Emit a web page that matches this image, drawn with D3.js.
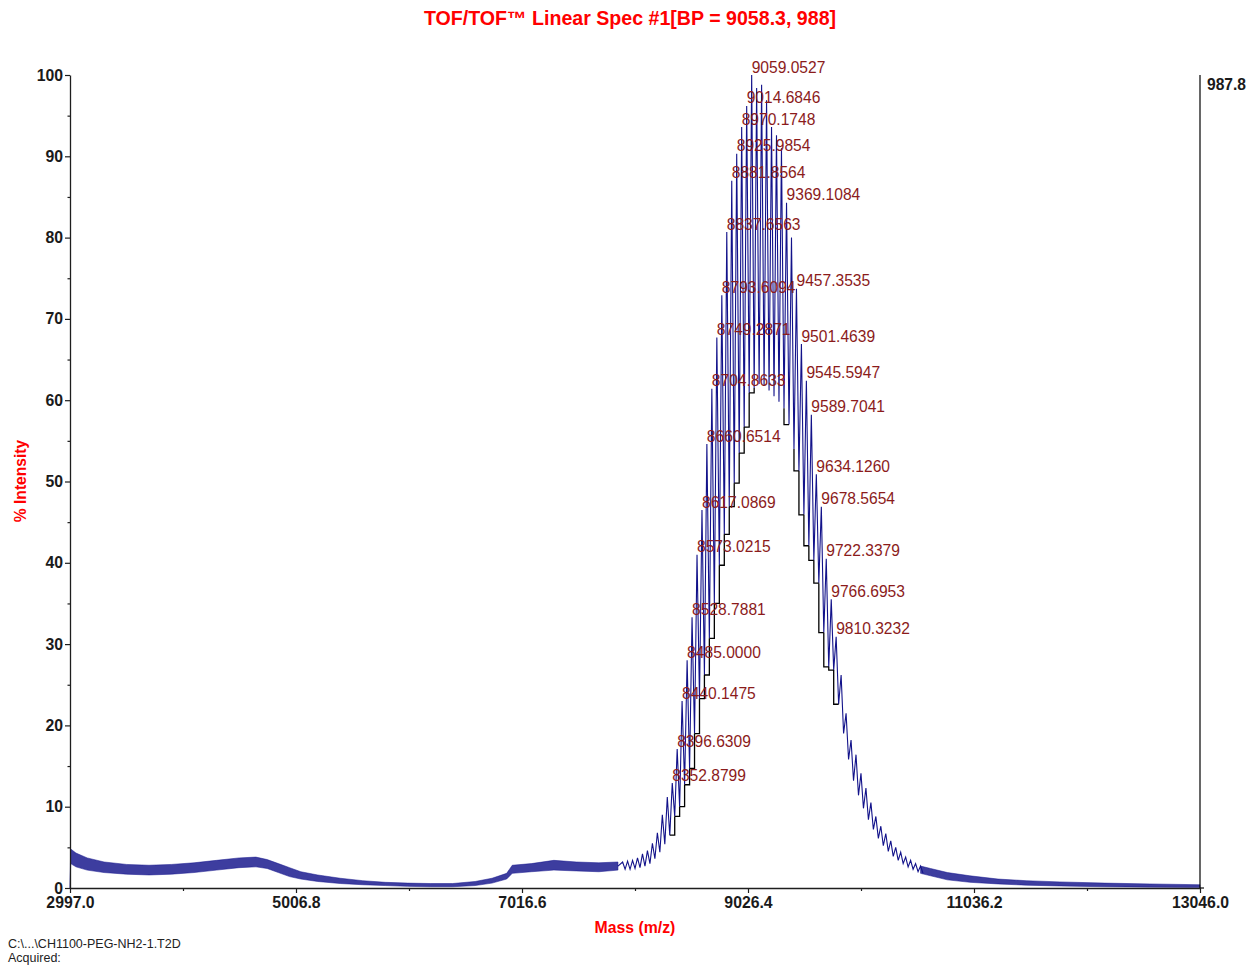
<!DOCTYPE html>
<html><head><meta charset="utf-8">
<script src="https://cdn.jsdelivr.net/npm/d3@7"></script>
<style>
html,body{margin:0;padding:0;background:#fff;}
svg{display:block;font-family:"Liberation Sans",Arial,Helvetica,sans-serif;}
</style></head><body>
<svg id="chart" width="1258" height="968"></svg>
<script>
// ---- spectrum data (m/z, % intensity) ----
// resolved oligomer peaks of the main distribution: apex mass, apex height, valley height after the peak
const peakMass = [7911.4, 7955.5, 7999.7, 8043.8, 8088.0, 8132.1, 8176.3, 8220.4, 8264.6, 8308.7,
  8352.8799, 8396.6309, 8440.1475, 8485.0000, 8528.7881, 8573.0215, 8617.0869, 8660.6514, 8704.8633, 8749.2871,
  8793.6094, 8837.6563, 8881.8564, 8925.9854, 8970.1748, 9014.6846, 9059.0527, 9103.2, 9147.4, 9191.5,
  9235.7, 9279.8, 9324.0, 9369.1084, 9413.2, 9457.3535, 9501.4639, 9545.5947, 9589.7041, 9634.1260,
  9678.5654, 9722.3379, 9766.6953, 9810.3232, 9854.5, 9898.6, 9942.8, 9986.9, 10031.1, 10075.2,
  10119.4, 10163.5, 10207.7, 10251.8, 10296.0, 10340.1, 10384.3, 10428.4, 10472.6, 10516.7, 10560.9];
const peakTop = [3.2, 3.3, 3.4, 3.7, 4.2, 4.6, 5.5, 6.8, 9.0, 11.2,
  12.9, 17.1, 23.0, 28.0, 33.3, 41.0, 46.5, 54.6, 61.4, 67.7,
  72.9, 80.7, 87.0, 90.3, 93.6, 96.2, 100, 98.4, 98.8, 96.9,
  93.6, 92.6, 91.0, 84.3, 80.0, 73.7, 66.9, 62.4, 58.2, 50.9,
  46.9, 40.5, 35.5, 30.9, 26.2, 21.5, 18.2, 16.4, 14.1, 12.3,
  10.5, 8.8, 7.6, 6.7, 5.8, 5.0, 4.4, 3.8, 3.4, 3.0, 2.7];
const peakValley = [2.3, 2.3, 2.4, 2.5, 2.7, 3.0, 3.6, 4.4, 5.4, 6.5,
  8.8, 10.0, 12.7, 14.7, 19.0, 23.3, 26.2, 30.7, 35.0, 39.7,
  43.5, 46.9, 49.8, 53.5, 56.7, 60.9, 61.5, 62.0, 61.8, 61.2,
  60.5, 59.8, 59.0, 57.0, 54.0, 51.3, 45.9, 42.1, 40.3, 37.5,
  31.4, 27.2, 26.8, 22.6, 19.0, 15.8, 13.2, 11.4, 9.8, 8.4,
  7.2, 6.1, 5.2, 4.5, 3.9, 3.4, 3.0, 2.6, 2.3, 2.0, 1.8];

// annotated peaks (mass list)
const labeledMass = [8352.8799, 8396.6309, 8440.1475, 8485.0000, 8528.7881, 8573.0215, 8617.0869, 8660.6514,
  8704.8633, 8749.2871, 8793.6094, 8837.6563, 8881.8564, 8925.9854, 8970.1748, 9014.6846, 9059.0527,
  9369.1084, 9457.3535, 9501.4639, 9545.5947, 9589.7041, 9634.1260, 9678.5654, 9722.3379, 9766.6953, 9810.3232];

// unresolved background: lower / upper edge of the noise band
const bgLeftMass = [2997, 3003, 3050, 3150, 3300, 3500, 3700, 3900, 4100, 4300, 4500, 4650, 4750, 4850, 4950,
  5050, 5200, 5400, 5600, 5800, 6000, 6200, 6400, 6600, 6750, 6880, 6930, 7100, 7300, 7500, 7700, 7870];
const bgLeftLo = [0, 3.0, 2.6, 2.2, 1.9, 1.7, 1.6, 1.7, 1.9, 2.2, 2.5, 2.6, 2.4, 1.9, 1.4,
  1.1, 0.8, 0.55, 0.4, 0.3, 0.2, 0.15, 0.15, 0.3, 0.6, 1.1, 1.8, 2.0, 2.2, 2.1, 2.0, 2.2];
const bgLeftHi = [0, 4.8, 4.3, 3.7, 3.2, 2.9, 2.8, 2.9, 3.1, 3.4, 3.7, 3.8, 3.5, 3.0, 2.5,
  2.0, 1.6, 1.2, 0.9, 0.7, 0.6, 0.55, 0.55, 0.8, 1.2, 1.8, 2.8, 3.0, 3.4, 3.2, 3.1, 3.2];
const bgRightMass = [10560.9, 10650, 10800, 11000, 11250, 11500, 11800, 12200, 12600, 13046];
const bgRightLo = [1.8, 1.5, 1.0, 0.7, 0.5, 0.35, 0.25, 0.15, 0.1, 0.05];
const bgRightHi = [2.7, 2.4, 1.9, 1.5, 1.1, 0.9, 0.75, 0.6, 0.5, 0.4];

// axes
const xTicks = [2997.0, 5006.8, 7016.6, 9026.4, 11036.2, 13046.0];
const yTicks = [0, 10, 20, 30, 40, 50, 60, 70, 80, 90, 100];
const yMinorTicks = [5, 15, 25, 35, 45, 55, 65, 75, 85, 95];
const basePeakCounts = "987.8";
const titleText = "TOF/TOF\u2122 Linear Spec #1[BP = 9058.3, 988]";
const fileLines = ["C:\\...\\CH1100-PEG-NH2-1.T2D", "Acquired:"];

// ---- drawing ----
const svg = d3.select("#chart");
const x = d3.scaleLinear().domain([xTicks[0], xTicks[xTicks.length - 1]]).range([70, 1200]);
const y = d3.scaleLinear().domain([0, 100]).range([888, 75]);
const traceColor = "#12128a";

// background bands
const area = d3.area().x(d => x(d.m)).y0(d => y(d.lo)).y1(d => y(d.hi));
const bands = [
  bgLeftMass.map((m, i) => ({m, lo: bgLeftLo[i], hi: bgLeftHi[i]})),
  bgRightMass.map((m, i) => ({m, lo: bgRightLo[i], hi: bgRightHi[i]}))
];
svg.append("g").selectAll("path").data(bands).join("path")
  .attr("d", area)
  .attr("fill", traceColor).attr("fill-opacity", 0.82)
  .attr("stroke", traceColor).attr("stroke-width", 0.5);

// peak trace: apex -> valley -> apex ...
const n = peakMass.length;
const tracePts = [];
const lastBg = bgLeftMass.length - 1;
tracePts.push([bgLeftMass[lastBg], (bgLeftLo[lastBg] + bgLeftHi[lastBg]) / 2]);
const valleyX = i => {
  const next = i < n - 1 ? peakMass[i + 1] : peakMass[i] + (peakMass[i] - peakMass[i - 1]);
  return (peakMass[i] + next) / 2;
};
for (let i = 0; i < n; i++) {
  tracePts.push([peakMass[i], peakTop[i]]);
  tracePts.push([valleyX(i), peakValley[i]]);
}
const line = d3.line().x(d => x(d[0])).y(d => y(d[1]));
svg.append("path").attr("d", line(tracePts))
  .attr("fill", "none").attr("stroke", traceColor).attr("stroke-width", 1.1)
  .attr("stroke-linejoin", "miter");

// peak-base brackets of annotated peaks
const gBase = svg.append("g").attr("fill", "none").attr("stroke", "#000").attr("stroke-width", 1.3);
labeledMass.forEach(m => {
  const i = peakMass.indexOf(m);
  const vL = peakValley[i - 1], vR = peakValley[i];
  const xL = x(valleyX(i - 1)), xR = x(valleyX(i));
  const low = Math.min(vL, vR);
  gBase.append("path")
    .attr("d", `M${xL},${y(vL)}V${y(low)}H${xR}V${y(vR)}`);
});

// peak annotations
const fmt4 = d3.format(".4f");
svg.append("g").selectAll("text").data(labeledMass).join("text")
  .attr("x", m => x(m))
  .attr("y", m => y(peakTop[peakMass.indexOf(m)]) - 2.4)
  .attr("fill", "#8b1b1b").attr("font-size", "15.6px")
  .text(m => fmt4(m));

// axes
const axisColor = "#1e1e1e";
const yAxis = svg.append("g").attr("transform", "translate(70,0)")
  .call(d3.axisLeft(y).tickValues(yTicks).tickSize(5).tickSizeOuter(0).tickPadding(2).tickFormat(d3.format("d")));
const yMinor = svg.append("g").attr("transform", "translate(70,0)")
  .call(d3.axisLeft(y).tickValues(yMinorTicks).tickSize(2.5).tickSizeOuter(0).tickFormat(""));
yMinor.select(".domain").remove();

const xMinorTicks = d3.pairs(xTicks).map(([a, b]) => (a + b) / 2);
const xAxis = svg.append("g").attr("transform", "translate(0,888)")
  .call(d3.axisBottom(x).tickValues(xTicks).tickSize(5).tickSizeOuter(0).tickPadding(4).tickFormat(d3.format(".1f")));
const xMinor = svg.append("g").attr("transform", "translate(0,888)")
  .call(d3.axisBottom(x).tickValues(xMinorTicks).tickSize(3).tickSizeOuter(0).tickFormat(""));
xMinor.select(".domain").remove();

[yAxis, xAxis].forEach(g => {
  g.select(".domain").attr("stroke", axisColor).attr("stroke-width", 1.3);
  g.selectAll("text").attr("font-size", "15.8px").attr("font-weight", "bold")
    .attr("fill", "#1a1a1a").attr("font-family", "'Liberation Sans', Arial, sans-serif");
});
[yAxis, yMinor, xAxis, xMinor].forEach(g => g.selectAll(".tick line").attr("stroke", axisColor).attr("stroke-width", 1.2));

// x axis runs slightly past the right frame line
svg.append("line").attr("x1", 1200).attr("x2", 1204).attr("y1", 888).attr("y2", 888)
  .attr("stroke", axisColor).attr("stroke-width", 1.3);

// right frame line with absolute base-peak intensity
svg.append("line").attr("x1", 1200).attr("x2", 1200).attr("y1", y(100)).attr("y2", y(0))
  .attr("stroke", "#000").attr("stroke-width", 1.2);
svg.append("text").attr("x", 1207).attr("y", 89.6)
  .attr("font-size", "15.6px").attr("font-weight", "bold").attr("fill", "#1a1a1a")
  .text(basePeakCounts);

// titles
svg.append("text").attr("x", 630).attr("y", 25.3).attr("text-anchor", "middle")
  .attr("font-size", "19.6px").attr("font-weight", "bold").attr("fill", "#ff0000")
  .text(titleText);
svg.append("text").attr("x", 635).attr("y", 932.5).attr("text-anchor", "middle")
  .attr("font-size", "15.8px").attr("font-weight", "bold").attr("fill", "#ff0000")
  .text("Mass (m/z)");
svg.append("text").attr("transform", "translate(25.6,481) rotate(-90)").attr("text-anchor", "middle")
  .attr("font-size", "15.6px").attr("font-weight", "bold").attr("fill", "#ff0000")
  .text("% Intensity");

// file info
svg.append("g").selectAll("text").data(fileLines).join("text")
  .attr("x", 8).attr("y", (d, i) => 947.5 + i * 14)
  .attr("font-size", "12.5px").attr("fill", "#222")
  .text(d => d);
</script>
</body></html>
